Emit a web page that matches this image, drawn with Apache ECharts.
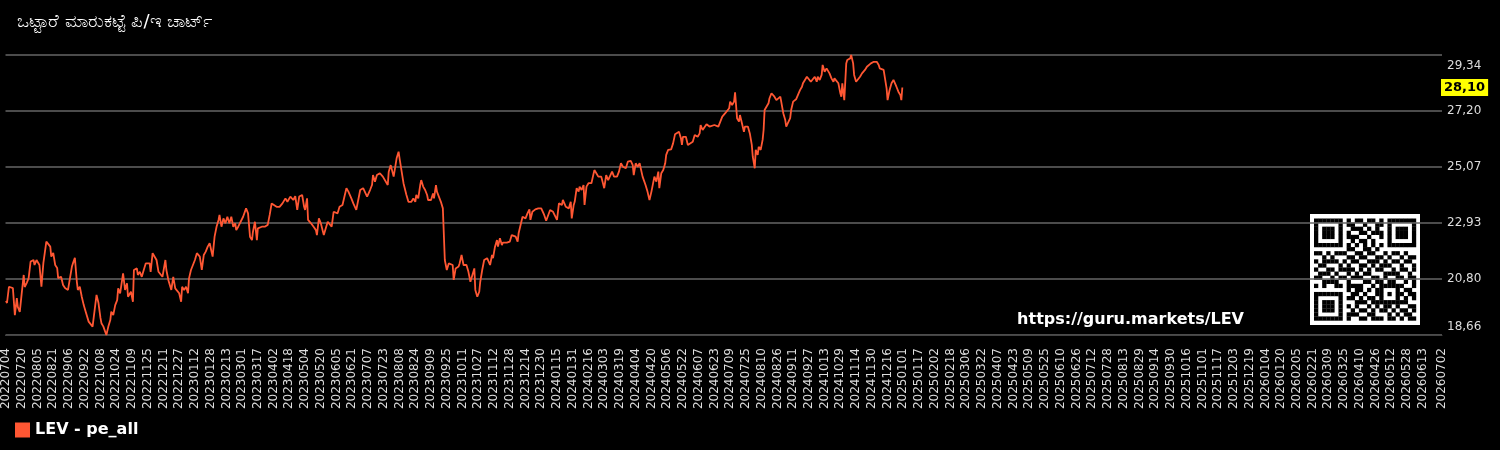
<!DOCTYPE html>
<html>
<head>
<meta charset="utf-8">
<title>LEV pe_all</title>
<script src="https://cdn.jsdelivr.net/npm/echarts@6/dist/echarts.min.js"></script>
<style>
  html, body { margin: 0; padding: 0; background: #000; }
  #main { width: 1500px; height: 450px; }
</style>
</head>
<body>
<div id="main"></div>
<script>
// chart text
var titleText = 'ಒಟ್ಟಾರೆ ಮಾರುಕಟ್ಟೆ ಪಿ/ಇ ಚಾರ್ಟ್';
var seriesName = 'LEV - pe_all';
var siteUrl = 'https://guru.markets/LEV';

// x axis runs day by day over this range
var firstDay = '20220704';
var lastDay = '20260702';

// y axis ticks
var yTicks = [18.66, 20.80, 22.93, 25.07, 27.20, 29.34];

// [days since 20220704, pe]
var peAll = [
  [0,19.96],[1,19.88],[3,20.50],[7,20.45],[9,19.42],[11,20.07],[12,19.73],[14,19.54],[16,20.26],[18,20.95],
  [19,20.49],[21,20.64],[23,20.83],[25,21.46],[28,21.52],[29,21.33],[31,21.52],[34,21.33],[36,20.50],[38,21.41],
  [41,22.22],[43,22.21],[45,22.03],[46,21.65],[48,21.79],[50,21.33],[52,21.22],[53,20.83],[56,20.88],[58,20.57],
  [60,20.45],[63,20.38],[65,20.45],[67,21.27],[68,21.39],[70,21.60],[72,20.69],[73,20.38],[75,20.50],[77,20.12],
  [79,19.80],[81,19.55],[84,19.17],[86,19.11],[88,18.98],[90,19.04],[92,20.19],[94,19.88],[96,19.31],[97,19.11],
  [99,18.98],[102,18.66],[104,18.98],[106,19.23],[107,19.55],[109,19.42],[111,19.80],[113,19.99],[114,20.44],[116,20.25],
  [119,21.01],[121,20.38],[123,20.63],[124,20.12],[127,20.31],[129,19.93],[130,21.14],[133,21.20],[134,20.95],[136,21.07],
  [138,20.88],[140,21.14],[142,21.39],[146,21.39],[147,21.07],[149,21.78],[151,21.80],
  [153,21.52],[155,21.07],[157,21.14],[159,20.88],[162,21.52],[163,21.14],[165,20.76],[167,20.50],[168,20.38],[170,20.88],
  [172,20.44],[173,20.38],[176,20.25],[178,19.93],[179,20.50],[181,20.38],[183,20.50],[185,20.25],[186,20.82],[188,21.14],
  [190,21.20],[192,21.52],[194,21.78],[197,21.65],[199,21.14],[201,21.71],[203,21.84],[205,22.03],[207,22.16],[208,22.09],
  [210,21.65],[212,22.41],[214,22.79],[216,23.05],[217,23.24],[219,22.79],[221,23.11],[223,22.92],[225,23.17],[227,22.92],
  [229,23.17],[231,22.79],[233,22.92],[234,22.66],[236,22.79],[238,22.73],[241,23.17],[244,23.49],[246,23.30],[248,22.41],
  [250,22.28],[251,22.60],[253,22.98],[255,22.28],[256,22.73],[258,22.66],[260,22.79],[263,22.79],[266,22.86],[268,23.24],
  [270,23.68],[272,23.71],[275,23.55],[278,23.55],[281,23.68],[284,23.87],[286,23.74],[289,23.94],[292,23.81],[294,23.96],
  [296,23.43],[298,23.94],[301,24.00],[303,23.55],
  [304,23.43],[306,23.87],[307,23.05],[310,22.92],[312,22.98],[313,22.77],[315,22.66],[316,22.47],[318,23.11],[320,22.92],
  [322,22.86],[323,22.47],[325,22.73],[327,22.98],[329,22.98],[331,22.79],[333,23.36],[335,23.43],[337,23.30],[339,23.55],
  [340,23.49],[342,23.62],[344,23.94],[346,24.26],[348,24.13],[350,24.06],[351,23.87],[353,23.68],[355,23.62],[356,23.43],
  [358,23.81],[360,24.19],[363,24.26],[365,24.26],[367,23.94],[368,24.00],[370,24.19],[372,24.38],[373,24.76],[375,24.51],
  [377,24.76],[380,24.83],[383,24.70],[385,24.70],[388,24.38],[389,24.89],[391,25.14],[393,25.21],[394,24.70],[396,24.64],
  [397,25.40],[399,25.65],[400,25.40],[402,25.33],[404,24.45],[405,24.51],[407,24.00],[409,23.74],[412,23.74],[414,23.87],
  [416,23.74],[417,24.00],[419,23.87],[421,24.38],[422,24.57],[424,24.32],[426,24.19],[428,24.00],[429,23.81],[432,23.81],
  [434,24.06],[435,23.87],[437,24.38],[438,24.13],[440,24.06],[442,23.74],[444,23.49],[445,23.43],[446,21.52],[448,21.14],
  [450,21.39],[452,21.33],[454,21.33],[455,20.76],
  [457,21.20],[460,21.27],[461,21.39],[463,21.71],[465,21.33],[466,21.39],[468,21.33],[470,21.07],[472,20.69],[474,20.63],
  [476,21.20],[477,20.38],[479,20.12],[481,20.31],[482,20.69],[484,21.14],[486,21.52],[489,21.59],[490,21.65],[492,21.33],
  [494,21.71],[495,21.59],[497,22.03],[499,22.28],[500,22.03],[502,22.35],[504,22.09],[505,22.18],[509,22.18],[512,22.22],
  [514,22.47],[516,22.54],[518,22.41],[520,22.22],[521,22.54],[523,22.60],[525,23.17],[526,23.24],[528,23.11],[530,23.30],
  [532,23.45],[533,23.05],[535,23.36],[538,23.45],[541,23.49],[544,23.49],[547,23.24],[549,23.02],[551,23.02],[553,23.43],
  [556,23.36],[558,23.43],[560,23.05],[562,23.68],[565,23.62],[566,23.81],[569,23.55],[570,23.58],[572,23.49],[574,23.74],
  [575,23.11],[577,23.62],[578,23.74],[580,24.26],[582,24.13],[583,24.32],[585,24.19],[587,24.38],[588,23.62],[590,24.32],
  [592,24.45],[594,24.38],[595,24.45],[598,24.95],[600,24.83],[602,24.70],[605,24.70],
  [606,24.76],[608,24.26],[610,24.76],[612,24.57],[616,24.89],[618,24.70],[621,24.70],[623,24.89],[625,25.21],[627,25.08],
  [628,25.14],[630,25.02],[632,25.27],[635,25.30],[637,25.14],[638,24.76],[640,25.21],[642,25.08],[644,25.21],[645,25.27],
  [647,24.70],[649,24.64],[650,24.38],[652,24.13],[654,23.81],[656,24.13],[658,24.51],[659,24.70],[661,24.51],[663,24.89],
  [664,24.26],[666,24.83],[668,24.95],[670,25.21],[671,25.53],[673,25.72],[676,25.74],[678,25.97],[680,26.32],[682,26.32],
  [684,26.41],[686,26.16],[687,25.91],[688,26.22],[691,26.22],[693,25.91],[695,25.97],[698,26.03],[700,26.29],[703,26.22],
  [705,26.35],[706,26.67],[708,26.48],[710,26.41],[712,26.70],[715,26.61],[717,26.57],[720,26.67],[722,26.73],[724,26.61],
  [726,26.67],[728,26.99],[731,27.12],[733,27.12],[735,27.31],[736,27.56],[738,27.43],[740,27.56],[741,27.92],[743,26.93],
  [745,26.80],[746,27.05],[748,27.12],[750,26.41],[751,26.61],[753,26.54],[754,26.61],[756,26.35],[758,25.91],[759,25.46],
  [761,25.02],
  [762,25.72],[764,25.53],[765,25.84],[767,25.72],[769,26.10],[770,26.48],[771,27.24],[773,27.31],[775,27.50],[776,27.69],
  [778,27.88],[780,27.90],[781,27.75],[783,27.62],[785,27.69],[787,27.75],[788,27.69],[790,27.12],[792,26.86],[793,26.61],
  [795,26.63],[797,26.93],[798,27.24],[800,27.56],[803,27.65],[805,27.62],[807,28.00],[809,28.13],[810,28.26],[812,28.20],
  [814,28.51],[816,28.51],[818,28.32],[820,28.32],[822,28.51],[824,28.32],[825,28.51],[827,28.39],[829,28.58],[830,28.96],
  [832,28.70],[834,28.83],[836,28.83],[837,28.64],[839,28.45],[841,28.32],[842,28.45],[844,28.39],[846,28.26],[848,27.88],
  [849,27.75],[850,28.26],[852,27.62],[854,29.02],[855,29.15],[858,29.21],[859,29.34],[861,29.02],[862,28.58],[864,28.32],
  [866,28.39],[868,28.51],[870,28.64],[873,28.77],[875,28.89],[877,28.96],[879,29.02],[881,28.96],[882,29.08],[885,29.08],
  [887,28.96],[888,28.83],[890,28.89],[892,28.77],[893,28.77],[895,28.07],[896,27.62],[898,28.00],[900,28.26],[902,28.39],
  [903,28.32],[905,28.13],[907,27.94],[909,27.81],[910,27.62],[911,28.10]
];

// qr badge pattern (decoration)
var qrRows = [
  '1111111010110110101111111',
  '1000001011001001101000001',
  '1011101001110101001011101',
  '1011101010011011101011101',
  '1011101011100100101011101',
  '1000001001011010001000001',
  '1111111010101010101111111',
  '0000000011001101000000000',
  '1101011100110110010110100',
  '0010100011011001101001011',
  '1011110101100111010110110',
  '0110001010011010111001001',
  '1001101111010101100101101',
  '0111010010101100011110010',
  '1100101101110011010011011',
  '0011110010001101101100101',
  '1010011011110010111111001',
  '0000000010110101100010110',
  '1111111001101001101011011',
  '1000001011010110100010101',
  '1011101000111011111111100',
  '1011101010100101011010011',
  '1011101001011010110101101',
  '1000001011100110001010110',
  '1111111010011011101101011'
];

function buildDays(a, b) {
  var out = [];
  var d = new Date(Date.UTC(+a.slice(0, 4), +a.slice(4, 6) - 1, +a.slice(6, 8)));
  var end = new Date(Date.UTC(+b.slice(0, 4), +b.slice(4, 6) - 1, +b.slice(6, 8)));
  while (d <= end) {
    var m = d.getUTCMonth() + 1, dd = d.getUTCDate();
    out.push('' + d.getUTCFullYear() + (m < 10 ? '0' : '') + m + (dd < 10 ? '0' : '') + dd);
    d.setUTCDate(d.getUTCDate() + 1);
  }
  return out;
}
var xDates = buildDays(firstDay, lastDay);

function fmt(v) { return v.toFixed(2).replace('.', ','); }

var lastPe = peAll[peAll.length - 1][1];

var qrCell = 4.08;
var qrChildren = [{ type: 'rect', shape: { x: 0, y: 0, width: 110, height: 111 }, style: { fill: '#fff' } }];
qrRows.forEach(function (row, r) {
  for (var c = 0; c < row.length; c++) {
    if (row[c] === '1') {
      qrChildren.push({ type: 'rect', shape: { x: 4 + c * qrCell, y: 4.5 + r * qrCell, width: qrCell + 0.2, height: qrCell + 0.2 }, style: { fill: '#000' } });
    }
  }
});

var chart = echarts.init(document.getElementById('main'), null, { renderer: 'canvas' });
chart.setOption({
  backgroundColor: '#000',
  animation: false,
  textStyle: { fontFamily: 'DejaVu Sans' },
  title: {
    text: titleText,
    left: 17, top: 13, padding: 0,
    textStyle: { color: '#fff', fontSize: 18, fontWeight: 'normal' }
  },
  legend: {
    data: [seriesName],
    left: 15, bottom: 12, padding: 0,
    icon: 'rect', itemWidth: 15, itemHeight: 15,
    textStyle: { color: '#fff', fontSize: 16, fontWeight: 'bold' }
  },
  grid: { left: 5, right: 58, top: 55, bottom: 115 },
  xAxis: {
    type: 'category',
    data: xDates,
    axisLine: { show: true, lineStyle: { color: '#444' } },
    axisTick: { show: false },
    splitLine: { show: false },
    axisLabel: {
      rotate: 90,
      color: '#ddd',
      fontSize: 12,
      margin: 13,
      interval: function (i) { return (i % 16 === 0 && i <= xDates.length - 17) || i === xDates.length - 1; }
    }
  },
  yAxis: {
    type: 'value',
    position: 'right',
    min: yTicks[0],
    max: yTicks[yTicks.length - 1],
    axisLine: { show: false },
    axisTick: { show: false, customValues: yTicks },
    axisLabel: {
      customValues: yTicks,
      color: '#ddd',
      fontSize: 12,
      margin: 5,
      formatter: function (v) {
        if (v === yTicks[yTicks.length - 1]) return '{hi|' + fmt(v) + '}';
        if (v === yTicks[0]) return '{lo|' + fmt(v) + '}';
        return fmt(v);
      },
      rich: {
        hi: { color: '#ddd', fontSize: 12, padding: [22, 0, 0, 0] },
        lo: { color: '#ddd', fontSize: 12, padding: [0, 0, 16, 0] }
      }
    },
    splitLine: { show: true, lineStyle: { color: '#666', width: 1.5 } }
  },
  series: [{
    name: seriesName,
    type: 'line',
    data: peAll,
    showSymbol: false,
    clip: false,
    lineStyle: { color: '#ff5733', width: 1.8 },
    itemStyle: { color: '#ff5733' },
    markLine: {
      silent: true,
      symbol: 'none',
      lineStyle: { color: 'transparent', width: 0 },
      label: {
        show: true,
        opacity: 1,
        position: 'end',
        distance: -1,
        formatter: function () { return fmt(lastPe); },
        backgroundColor: '#ffff00',
        color: '#000',
        fontWeight: 'bold',
        fontSize: 13,
        padding: [2, 3]
      },
      data: [{ yAxis: lastPe }]
    }
  }],
  graphic: [
    {
      type: 'text', right: 256, top: 312,
      style: { text: siteUrl, fill: '#fff', font: 'bold 16px "DejaVu Sans"' }
    },
    { type: 'group', left: 1310, top: 214, children: qrChildren }
  ]
});
</script>
</body>
</html>
